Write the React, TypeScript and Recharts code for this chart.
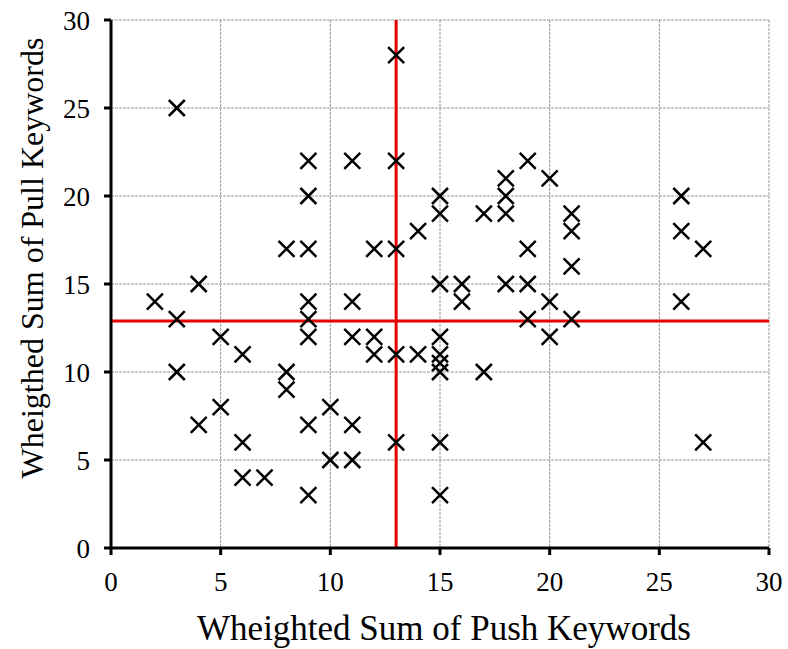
import { ScatterChart, Scatter, XAxis, YAxis, CartesianGrid, ReferenceLine, Label } from "recharts";

// push keyword score (x) and pull keyword score (y), one pair per item
const pushScores = [
  2, 3, 3, 3, 4, 4, 5, 5, 6, 6, 6, 7, 8, 8, 8,
  9, 9, 9, 9, 9, 9, 9, 9, 10, 10, 11, 11, 11, 11, 11,
  12, 12, 12, 13, 13, 13, 13, 13, 14, 14,
  15, 15, 15, 15, 15, 15, 15, 15, 15, 16, 16, 17, 17,
  18, 18, 18, 18, 19, 19, 19, 19, 20, 20, 20,
  21, 21, 21, 21, 26, 26, 26, 27, 27,
];
const pullScores = [
  14, 25, 13, 10, 15, 7, 12, 8, 11, 6, 4, 4, 17, 10, 9,
  22, 20, 17, 14, 13, 12, 7, 3, 8, 5, 22, 14, 12, 7, 5,
  17, 12, 11, 28, 22, 17, 11, 6, 18, 11,
  20, 19, 15, 12, 11, 10.5, 10, 6, 3, 15, 14, 19, 10,
  21, 20, 19, 15, 22, 17, 15, 13, 21, 14, 12,
  19, 18, 16, 13, 20, 18, 14, 17, 6,
];
const axisTicks = [0, 5, 10, 15, 20, 25, 30];
const pushCut = 13;
const pullCut = 12.9;

const data = pushScores.map((x, i) => ({ x, y: pullScores[i] }));

const serif = "Liberation Serif";

const Cross = (props: any) => {
  const { cx, cy } = props;
  const s = 8;
  return (
    <path
      d={`M${cx - s},${cy - s}L${cx + s},${cy + s}M${cx - s},${cy + s}L${cx + s},${cy - s}`}
      stroke="#000"
      strokeWidth={2.5}
      fill="none"
    />
  );
};

const XTick = (props: any) => {
  const { x, y, payload } = props;
  return (
    <text x={x} y={y} dy="0.71em" textAnchor="middle" fontSize={27} fontFamily={serif} fill="#000">
      {payload.value}
    </text>
  );
};

const YTick = (props: any) => {
  const { x, y, payload } = props;
  return (
    <text x={x} y={y} dy="0.355em" textAnchor="end" fontSize={27} fontFamily={serif} fill="#000">
      {payload.value}
    </text>
  );
};

export default function App() {
  return (
    <div style={{ width: 780, height: 641, padding: "8px 0 0 8px", fontFamily: serif }}>
      <style>{`html, body { margin: 0; overflow: hidden; }`}</style>
      <ScatterChart width={780} height={641} margin={{ top: 12, right: 19, bottom: 0, left: 0 }}>
        <CartesianGrid stroke="#999" strokeDasharray="3 1" />
        <XAxis
          type="number"
          dataKey="x"
          domain={[0, 30]}
          ticks={axisTicks}
          height={101}
          tickSize={7}
          tickMargin={17}
          axisLine={{ stroke: "#000", strokeWidth: 3 }}
          tickLine={{ stroke: "#000", strokeWidth: 3 }}
          tick={<XTick />}
        >
          <Label
            content={({ viewBox }: any) => (
              <text
                x={viewBox.x + viewBox.width / 2 + 4}
                y={viewBox.y + 92}
                textAnchor="middle"
                fontSize={35}
                fontFamily={serif}
                fill="#000"
              >
                Wheighted Sum of Push Keywords
              </text>
            )}
          />
        </XAxis>
        <YAxis
          type="number"
          dataKey="y"
          domain={[0, 30]}
          ticks={axisTicks}
          width={103}
          tickSize={7}
          tickMargin={14}
          axisLine={{ stroke: "#000", strokeWidth: 3 }}
          tickLine={{ stroke: "#000", strokeWidth: 3 }}
          tick={<YTick />}
        >
          <Label
            content={({ viewBox }: any) => {
              const lx = viewBox.x + 35;
              const ly = viewBox.y + 238;
              return (
                <text
                  x={lx}
                  y={ly}
                  transform={`rotate(-90, ${lx}, ${ly})`}
                  textAnchor="middle"
                  fontSize={32}
                  fontFamily={serif}
                  fill="#000"
                >
                  Wheigthed Sum of Pull Keywords
                </text>
              );
            }}
          />
        </YAxis>
        <ReferenceLine x={pushCut} stroke="#e60000" strokeWidth={3} />
        <ReferenceLine y={pullCut} stroke="#e60000" strokeWidth={3} />
        <Scatter data={data} shape={Cross} isAnimationActive={false} />
      </ScatterChart>
    </div>
  );
}
